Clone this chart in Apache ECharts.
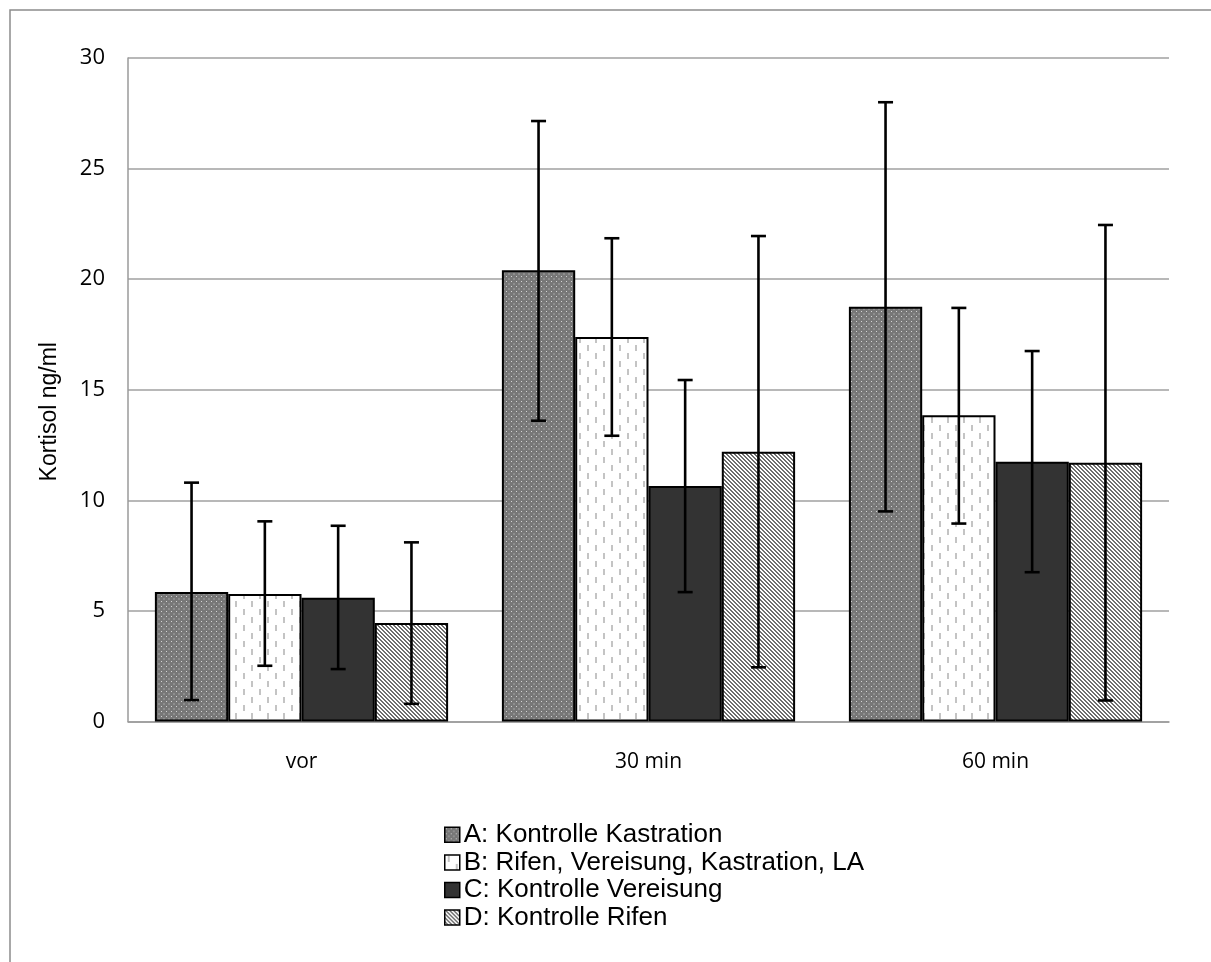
<!DOCTYPE html>
<html><head><meta charset="utf-8">
<script src="https://cdn.jsdelivr.net/npm/echarts@6/dist/echarts.min.js"></script>
<style>html,body{margin:0;padding:0;background:#fff}#c{width:1211px;height:962px}</style>
</head><body><div id="c"></div>
<script>
const categories = ['vor', '30 min', '60 min'];
const seriesNames = ['A: Kontrolle Kastration', 'B: Rifen, Vereisung, Kastration, LA', 'C: Kontrolle Vereisung', 'D: Kontrolle Rifen'];
const meanA = [5.85, 20.4, 18.75];
const meanB = [5.77, 17.38, 13.85];
const meanC = [5.6, 10.65, 11.75];
const meanD = [4.45, 12.2, 11.7];
const lowA = [0.97, 13.6, 9.5];
const highA = [10.8, 27.15, 28.0];
const lowB = [2.52, 12.92, 8.95];
const highB = [9.05, 21.85, 18.7];
const lowC = [2.37, 5.85, 6.75];
const highC = [8.85, 15.44, 16.75];
const lowD = [0.8, 2.45, 0.95];
const highD = [8.1, 21.95, 22.45];
const yTicks = [0, 5, 10, 15, 20, 25, 30];

function tile(w, h, draw) {
  const c = document.createElement('canvas'); c.width = w; c.height = h;
  const g = c.getContext('2d'); draw(g); return c;
}
const patA = tile(5, 5, g => { g.fillStyle = '#777777'; g.fillRect(0,0,5,5); g.fillStyle = '#d4d4d4'; g.fillRect(1,1,1,1); g.fillRect(3.5,3.5,1,1); });
const patB = tile(16, 16, g => { g.fillStyle = '#ffffff'; g.fillRect(0,0,16,16); g.fillStyle = '#c4c4c4'; g.fillRect(3,1,2,6); g.fillRect(11,9,2,6); });
const patD = tile(4, 4, g => { g.fillStyle = '#ffffff'; g.fillRect(0,0,4,4); g.fillStyle = '#6e6e6e'; for (let i = 0; i < 4; i++) { g.fillRect(i, i, 1, 1); g.fillRect((i+1)%4, i, 1, 1); } });

const fills = [
  { image: patA, repeat: 'repeat' },
  { image: patB, repeat: 'repeat' },
  '#333333',
  { image: patD, repeat: 'repeat' }
];
const means = [meanA, meanB, meanC, meanD];
const lows = [lowA, lowB, lowC, lowD];
const highs = [highA, highB, highC, highD];
const CAT_GAP = 0.155;

const errData = [];
for (let s = 0; s < 4; s++) for (let i = 0; i < categories.length; i++) errData.push([i, s, lows[s][i], highs[s][i]]);

const barSeries = seriesNames.map((n, s) => ({
  name: n, type: 'bar', data: means[s], barGap: '0%', barCategoryGap: (CAT_GAP*100) + '%',
  itemStyle: { color: fills[s], borderColor: '#000', borderWidth: 2 },
  emphasis: { disabled: true }, z: 2
}));

const chart = echarts.init(document.getElementById('c'), null, { renderer: 'canvas' });
chart.setOption({
  animation: false,
  backgroundColor: '#fff',
  graphic: [{ type: 'rect', left: 7.5, top: 7.5, shape: { width: 1400, height: 1100 }, style: { fill: 'none', stroke: '#8c8c8c', lineWidth: 1.5 }, z: -10 }],
  grid: { left: 128, right: 42, top: 58, bottom: 240.5, containLabel: false },
  legend: {
    orient: 'vertical', left: 439, top: 816, itemWidth: 15, itemHeight: 15, itemGap: 0,
    selectedMode: false, icon: 'rect',
    textStyle: { fontFamily: 'Liberation Sans', fontSize: 26, color: '#000', lineHeight: 27.6, padding: [0,0,0,-1] },
    itemStyle: { borderWidth: 1.5, borderColor: '#000' },
    data: seriesNames
  },
  xAxis: {
    type: 'category', data: categories,
    axisLine: { lineStyle: { color: '#9a9a9a', width: 1.5 } },
    axisTick: { show: false },
    axisLabel: { fontFamily: 'Open Sans', fontSize: 21, color: '#000', margin: 30 }
  },
  yAxis: {
    type: 'value', min: 0, max: 30, interval: 5,
    name: 'Kortisol ng/ml', nameLocation: 'middle', nameRotate: 90, nameGap: 67,
    nameTextStyle: { fontFamily: 'Liberation Sans', fontSize: 23, color: '#000', padding: [0, 44, 0, 0] },
    axisLine: { show: true, lineStyle: { color: '#9a9a9a', width: 1.5 } },
    axisTick: { show: false },
    axisLabel: { fontFamily: 'Open Sans', fontSize: 22, color: '#000', margin: 23,
      formatter: v => yTicks.includes(v) ? String(v) : '' },
    splitLine: { lineStyle: { color: '#a0a0a0', width: 1.5 } }
  },
  series: barSeries.concat([{
    type: 'custom', name: 'err', data: errData, z: 10, silent: true,
    encode: { x: 0, y: [2, 3] },
    renderItem: (params, api) => {
      const cat = api.value(0), s = api.value(1), lo = api.value(2), hi = api.value(3);
      const bandW = api.size([1, 0])[0];
      const barW = bandW * (1 - CAT_GAP) / 4;
      const cx = api.coord([cat, 0])[0] + (s - 1.5) * barW;
      const yLo = api.coord([cat, lo])[1], yHi = api.coord([cat, hi])[1];
      const hw = 7.5;
      const st = { stroke: '#000', lineWidth: 2.6 };
      return { type: 'group', children: [
        { type: 'line', shape: { x1: cx, y1: yLo, x2: cx, y2: yHi }, style: st },
        { type: 'line', shape: { x1: cx - hw, y1: yHi, x2: cx + hw, y2: yHi }, style: st },
        { type: 'line', shape: { x1: cx - hw, y1: yLo, x2: cx + hw, y2: yLo }, style: st }
      ]};
    }
  }])
});
</script></body></html>
